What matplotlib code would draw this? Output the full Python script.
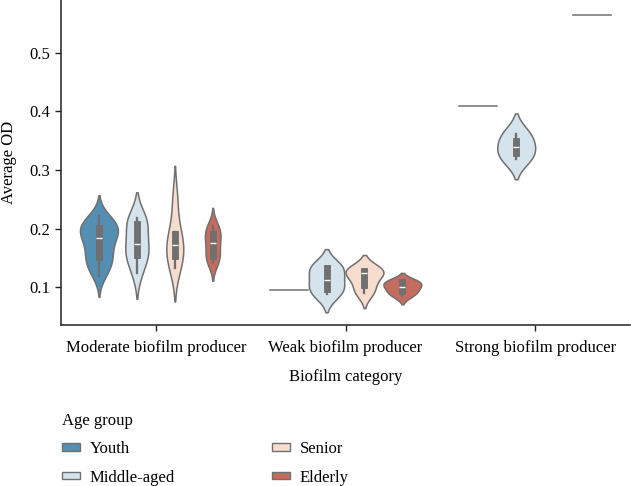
import matplotlib
matplotlib.use("Agg")
import matplotlib.pyplot as plt
from matplotlib.patches import Patch
import seaborn as sns
import pandas as pd

# ---- data -----------------------------------------------------------------
categories = ["Moderate biofilm producer", "Weak biofilm producer", "Strong biofilm producer"]
age_groups = ["Youth", "Middle-aged", "Senior", "Elderly"]

moderate_youth = [0.120, 0.132, 0.140, 0.146, 0.153, 0.161, 0.170, 0.180,
                  0.188, 0.192, 0.196, 0.200, 0.204, 0.209, 0.214, 0.221]
moderate_middle = [0.125, 0.150, 0.158, 0.166, 0.182, 0.205, 0.215, 0.218]
moderate_senior = [0.1335, 0.150, 0.165, 0.179, 0.195, 0.250]
moderate_elderly = [0.142, 0.150, 0.155, 0.170, 0.182, 0.190, 0.197, 0.205]

weak_youth = [0.095]
weak_middle = [0.088, 0.098, 0.1124, 0.1335, 0.135]
weak_senior = [0.090, 0.105, 0.125, 0.128, 0.130]
weak_elderly = [0.086, 0.094, 0.101, 0.109, 0.110]

strong_youth = [0.41]
strong_middle = [0.319, 0.339, 0.362]
strong_elderly = [0.565]

groups = {
    ("Moderate biofilm producer", "Youth"): moderate_youth,
    ("Moderate biofilm producer", "Middle-aged"): moderate_middle,
    ("Moderate biofilm producer", "Senior"): moderate_senior,
    ("Moderate biofilm producer", "Elderly"): moderate_elderly,
    ("Weak biofilm producer", "Youth"): weak_youth,
    ("Weak biofilm producer", "Middle-aged"): weak_middle,
    ("Weak biofilm producer", "Senior"): weak_senior,
    ("Weak biofilm producer", "Elderly"): weak_elderly,
    ("Strong biofilm producer", "Youth"): strong_youth,
    ("Strong biofilm producer", "Middle-aged"): strong_middle,
    ("Strong biofilm producer", "Elderly"): strong_elderly,
}

rows = []
for (cat, age), vals in groups.items():
    for v in vals:
        rows.append({"Biofilm category": cat, "Age group": age, "Average OD": v})
df = pd.DataFrame(rows)

# ---- style ----------------------------------------------------------------
plt.rcParams["font.family"] = ["Liberation Serif", "DejaVu Serif"]
plt.rcParams["font.size"] = 12

palette = sns.color_palette("RdBu_r", 4)
line_gray = "#707070"

fig = plt.figure(figsize=(6.31, 4.86), dpi=100)
ax = fig.add_axes([61 / 631, 1 - 325 / 486, 569 / 631, 325 / 486])

sns.violinplot(data=df, x="Biofilm category", y="Average OD", hue="Age group",
               order=categories, hue_order=age_groups, palette=palette,
               linecolor=line_gray, linewidth=1.1, legend=False, ax=ax)

ax.set_xlim(-0.5, 2.5)
ax.set_ylim(0.036, 0.590)
ax.set_yticks([0.1, 0.2, 0.3, 0.4, 0.5])
ax.spines["top"].set_visible(False)
ax.spines["right"].set_visible(False)
for s in ("left", "bottom"):
    ax.spines[s].set_linewidth(1.1)
    ax.spines[s].set_color("#222222")
ax.tick_params(axis="both", length=4.5, width=1.0, labelsize=12, color="#222222")
ax.tick_params(axis="x", pad=6.5)
ax.set_xlabel("Biofilm category", fontsize=12, labelpad=9)
ax.set_ylabel("Average OD", fontsize=12, labelpad=9)

handles = [Patch(facecolor=sns.desaturate(c, 0.75), edgecolor=line_gray, linewidth=1.0)
           for c in palette]
fig.legend(handles, age_groups, title="Age group", loc="upper left",
           bbox_to_anchor=(62 / 631, 1 - 412.5 / 486), ncol=2, frameon=False,
           alignment="left", borderpad=0, borderaxespad=0,
           handlelength=1.08, handleheight=0.3, handletextpad=0.6,
           labelspacing=0.75, columnspacing=5.8, fontsize=12, title_fontsize=12)

fig.savefig("out.png", dpi=100)
